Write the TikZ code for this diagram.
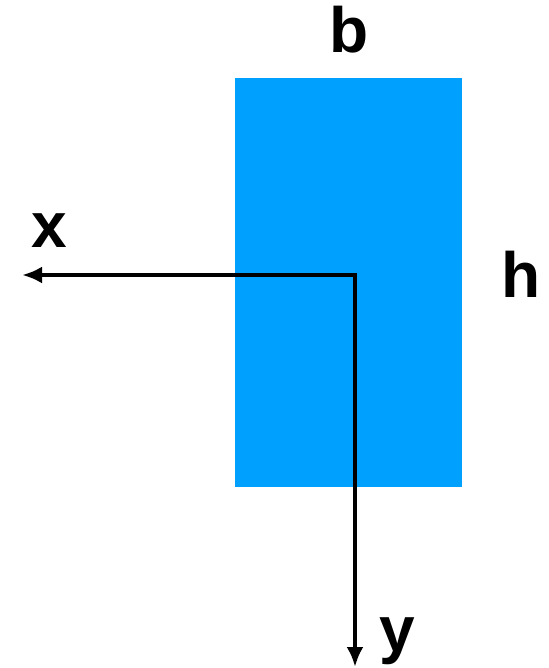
\documentclass[tikz,border=0pt]{standalone}
\usepackage{fontspec}
\setmainfont{Liberation Sans}
\usetikzlibrary{arrows.meta}
\definecolor{sectblue}{RGB}{0,160,255}

\begin{document}
\begin{tikzpicture}
[
	x=1pt, y=-1pt,
	axis/.style={line width=4pt,-{Latex[length=20pt,width=17pt]}},
	lbl/.style={inner sep=0pt,font=\fontsize{64}{64}\selectfont\bfseries}
]

	\useasboundingbox (0,0) rectangle (548,668);

	% cross section
	\fill[sectblue] (235,78) rectangle (462,487);
	\node[lbl] (b) at (349,30) {b};
	\node[lbl] (h) at (521,274) {h};

	% axes
	\coordinate (o) at (355,275);
	\coordinate (xend) at (22,275);
	\coordinate (yend) at (355,667);
	\draw[axis] ([xshift=2pt]o) -- (xend);
	\draw[axis] (o) -- (yend);
	\node[lbl] (x) at (49,231) {x};
	\node[lbl] (y) at (397,641) {y};

\end{tikzpicture}
\end{document}
